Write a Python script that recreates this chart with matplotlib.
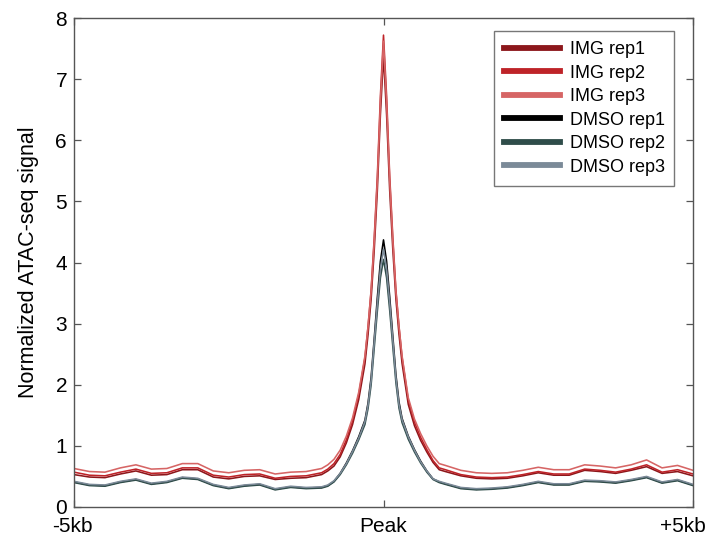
import matplotlib
matplotlib.use("Agg")
import matplotlib.pyplot as plt
from matplotlib.transforms import ScaledTranslation

plt.rcParams['font.family'] = ['Liberation Sans', 'DejaVu Sans']

# Position relative to peak (kb)
x_kb = [-5.0, -4.75, -4.5, -4.25, -4.0, -3.75, -3.5, -3.25, -3.0, -2.75, -2.5, -2.25, -2.0, -1.75, -1.5, -1.25,
        -1.0, -0.9, -0.8, -0.7, -0.6, -0.5, -0.4, -0.3,
        -0.25, -0.2, -0.15, -0.1, -0.05,
        0.0,
        0.05, 0.1, 0.15, 0.2, 0.25,
        0.3, 0.4, 0.5, 0.6, 0.7, 0.8, 0.9, 1.0,
        1.25, 1.5, 1.75, 2.0, 2.25, 2.5, 2.75, 3.0, 3.25, 3.5, 3.75, 4.0, 4.25, 4.5, 4.75, 5.0]

img_rep1 = [0.53, 0.49, 0.48, 0.54, 0.59, 0.52, 0.53, 0.61, 0.61, 0.49, 0.46, 0.50, 0.51, 0.45, 0.47, 0.48,
            0.53, 0.59, 0.67, 0.82, 1.05, 1.35, 1.76, 2.34,
            2.82, 3.40, 4.20, 5.17, 6.42,
            7.38,
            6.42, 5.18, 4.22, 3.41, 2.83,
            2.35, 1.68, 1.33, 1.09, 0.90, 0.73, 0.61, 0.58,
            0.51, 0.47, 0.46, 0.47, 0.51, 0.56, 0.52, 0.52, 0.60, 0.58, 0.55, 0.60, 0.66, 0.55, 0.58, 0.51]

img_rep2 = [0.57, 0.52, 0.51, 0.57, 0.62, 0.55, 0.56, 0.64, 0.64, 0.52, 0.49, 0.53, 0.54, 0.47, 0.50, 0.51,
            0.56, 0.62, 0.71, 0.86, 1.10, 1.41, 1.84, 2.44,
            2.95, 3.55, 4.40, 5.40, 6.72,
            7.72,
            6.72, 5.42, 4.42, 3.56, 2.96,
            2.45, 1.75, 1.39, 1.14, 0.94, 0.76, 0.64, 0.61,
            0.53, 0.49, 0.48, 0.49, 0.53, 0.58, 0.54, 0.54, 0.62, 0.60, 0.57, 0.62, 0.69, 0.57, 0.61, 0.54]

img_rep3 = [0.63, 0.58, 0.57, 0.64, 0.69, 0.62, 0.63, 0.71, 0.71, 0.59, 0.56, 0.60, 0.61, 0.54, 0.57, 0.58,
            0.63, 0.69, 0.78, 0.93, 1.16, 1.46, 1.88, 2.47,
            2.95, 3.53, 4.35, 5.33, 6.62,
            7.62,
            6.62, 5.35, 4.37, 3.53, 2.95,
            2.47, 1.79, 1.44, 1.20, 1.00, 0.83, 0.71, 0.68,
            0.60, 0.56, 0.55, 0.56, 0.60, 0.65, 0.61, 0.61, 0.69, 0.67, 0.64, 0.69, 0.77, 0.64, 0.68, 0.60]

dmso_rep1 = [0.41, 0.36, 0.35, 0.41, 0.45, 0.38, 0.41, 0.48, 0.46, 0.36, 0.31, 0.35, 0.37, 0.29, 0.33, 0.31,
             0.32, 0.35, 0.42, 0.55, 0.72, 0.92, 1.15, 1.42,
             1.70, 2.12, 2.75, 3.42, 4.02,
             4.37,
             4.02, 3.44, 2.80, 2.17, 1.72,
             1.45, 1.16, 0.94, 0.75, 0.59, 0.46, 0.41, 0.38,
             0.31, 0.29, 0.30, 0.32, 0.36, 0.41, 0.37, 0.37, 0.43, 0.42, 0.40, 0.44, 0.49, 0.40, 0.44, 0.36]

dmso_rep2 = [0.40, 0.35, 0.34, 0.40, 0.44, 0.37, 0.40, 0.47, 0.45, 0.35, 0.30, 0.34, 0.36, 0.28, 0.32, 0.30,
             0.31, 0.34, 0.41, 0.53, 0.69, 0.88, 1.10, 1.35,
             1.61, 2.00, 2.60, 3.20, 3.75,
             4.05,
             3.75, 3.22, 2.63, 2.04, 1.62,
             1.38, 1.11, 0.90, 0.72, 0.57, 0.45, 0.40, 0.37,
             0.30, 0.28, 0.29, 0.31, 0.35, 0.40, 0.36, 0.36, 0.42, 0.41, 0.39, 0.43, 0.48, 0.39, 0.43, 0.35]

dmso_rep3 = [0.42, 0.37, 0.36, 0.42, 0.46, 0.39, 0.42, 0.49, 0.47, 0.37, 0.32, 0.36, 0.38, 0.30, 0.34, 0.32,
             0.33, 0.36, 0.43, 0.55, 0.71, 0.91, 1.13, 1.40,
             1.67, 2.07, 2.70, 3.33, 3.90,
             4.22,
             3.90, 3.35, 2.74, 2.12, 1.68,
             1.43, 1.15, 0.93, 0.74, 0.59, 0.46, 0.42, 0.39,
             0.32, 0.30, 0.31, 0.33, 0.37, 0.42, 0.38, 0.38, 0.44, 0.43, 0.41, 0.45, 0.50, 0.41, 0.45, 0.37]

series_labels = ["IMG rep1", "IMG rep2", "IMG rep3", "DMSO rep1", "DMSO rep2", "DMSO rep3"]
series_values = [img_rep1, img_rep2, img_rep3, dmso_rep1, dmso_rep2, dmso_rep3]
series_colors = ["#8c171b", "#be2328", "#d66565", "#000000", "#2f4d4a", "#7b8a98"]

x_ticks = [-5, 0, 5]
x_tick_labels = ["-5kb", "Peak", "+5kb"]
y_ticks = [0, 1, 2, 3, 4, 5, 6, 7, 8]

fig = plt.figure(figsize=(7.08, 5.35), dpi=100)
ax = fig.add_axes([74/708, 1 - 507/535, (693 - 74)/708, (507 - 18)/535])

for lab, vals, col in zip(series_labels, series_values, series_colors):
    ax.plot(x_kb, vals, color=col, lw=1.15, label=lab, solid_joinstyle='round')

ax.set_xlim(-5, 5)
ax.set_ylim(0, 8)
ax.set_xticks(x_ticks)
ax.set_xticklabels(x_tick_labels)
ax.set_yticks(y_ticks)
ax.tick_params(direction='in', length=5, width=0.9, color='#555555',
               top=True, right=True, labelsize=15, pad=5)
ax.tick_params(axis='x', pad=7)
for sp in ax.spines.values():
    sp.set_color('#555555')
    sp.set_linewidth(1.0)

# keep end labels fully inside the figure, as in the reference
xt = ax.get_xticklabels()
xt[0].set_transform(xt[0].get_transform() + ScaledTranslation(-2/100, 0, fig.dpi_scale_trans))
xt[-1].set_transform(xt[-1].get_transform() + ScaledTranslation(-10/100, 0, fig.dpi_scale_trans))

ax.set_ylabel("Normalized ATAC-seq signal", fontsize=15.5, labelpad=12)

leg = ax.legend(loc='upper left', bbox_to_anchor=(0.678, 0.973), fontsize=13,
                frameon=True, fancybox=False, handlelength=3.15, handletextpad=0.5,
                borderpad=0.55, labelspacing=0.36, borderaxespad=0)
leg.get_frame().set_edgecolor('#555555')
leg.get_frame().set_linewidth(1.0)
for h in leg.legend_handles:
    h.set_linewidth(4.2)

fig.savefig("out.png", dpi=100)
